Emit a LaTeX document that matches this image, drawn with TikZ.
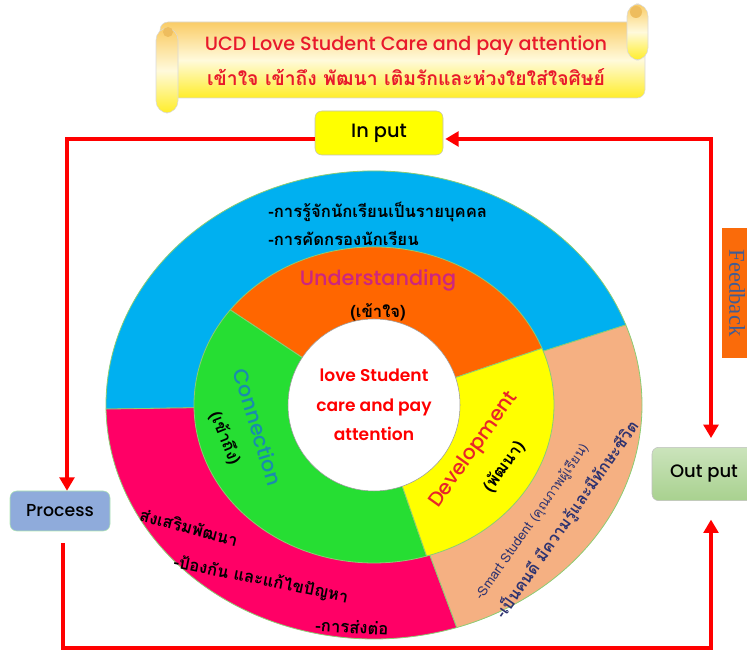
\documentclass[tikz,border=0pt]{standalone}
\usepackage{fontspec}
\setmainfont{Poppins}[UprightFont=* Medium, BoldFont=* SemiBold]
\newfontfamily\thaifont[Script=Thai]{Loma}
\newfontfamily\fbfont{Liberation Serif}
\usetikzlibrary{positioning,arrows.meta}
\definecolor{arrowclr}{rgb}{1.0, 0.0, 0.0}
\definecolor{titleclr}{rgb}{0.91, 0.10, 0.17}
\definecolor{blueclr}{rgb}{0.0, 0.69, 0.94}
\definecolor{pinkclr}{rgb}{1.0, 0.0, 0.4}
\definecolor{peachclr}{rgb}{0.96, 0.69, 0.51}
\definecolor{orangeclr}{rgb}{1.0, 0.4, 0.0}
\definecolor{greenclr}{rgb}{0.15, 0.87, 0.20}
\definecolor{yellowclr}{rgb}{1.0, 1.0, 0.0}
\definecolor{edgeclr}{rgb}{0.55, 0.80, 0.45}
\definecolor{undclr}{rgb}{0.80, 0.15, 0.50}
\definecolor{connclr}{rgb}{0.10, 0.55, 0.68}
\definecolor{devclr}{rgb}{0.91, 0.15, 0.16}
\definecolor{navyclr}{rgb}{0.18, 0.20, 0.44}
\definecolor{procclr}{rgb}{0.56, 0.67, 0.86}
\definecolor{outclr}{rgb}{0.66, 0.82, 0.56}
\definecolor{fbclr}{rgb}{0.98, 0.42, 0.04}
\definecolor{fbtxt}{rgb}{0.25, 0.36, 0.58}
\definecolor{scrolltop}{rgb}{0.98, 0.80, 0.40}
\definecolor{scrollmid}{rgb}{1.0, 0.98, 0.86}
\definecolor{scrollbot}{rgb}{1.0, 0.93, 0.16}
\tikzset{ %
  ,>={Triangle[length=10pt,width=11pt]}
  ,flow/.style={draw=arrowclr, line width=3pt}
  ,stage/.style={draw=black!25, rounded corners=5pt, inner sep=0, font=\fontsize{13}{15}\selectfont}
  ,ring/.style={draw=edgeclr, line width=0.6pt}
  ,thaitxt/.style={font=\thaifont\bfseries\fontsize{#1}{#1}\selectfont, inner sep=0}
  ,scroll/.style={top color=scrolltop, bottom color=scrollbot, middle color=scrollmid, draw=black!15}
}
\begin{document}
\begin{tikzpicture}[x=0.75pt, y=0.75pt]
  \useasboundingbox (0,0) rectangle (747,652);
  \clip (0,0) rectangle (747,652);
  % scroll
  \shade[scroll, rounded corners=6pt] (160,554) rectangle (645,630);
  \shade[scroll, rounded corners=9pt] (156,539) rectangle (178,624);
  \shade[scroll, rounded corners=9pt] (627,592) rectangle (648,648);
  \fill[scrolltop!80!brown] (168,620) circle[radius=5];
  \fill[scrolltop!80!brown] (636,640) circle[radius=6];
  \node[text=titleclr, font=\fontsize{14.4}{17}\selectfont] (title) at (406,606) {UCD Love Student Care and pay attention};
  \node[thaitxt=14.5, text=titleclr] (subtitle) at (406,575) {เข้าใจ เข้าถึง พัฒนา เติมรักและห่วงใยใส่ใจศิษย์};
  % rings
  \coordinate (c) at (374,247);
  \filldraw[ring, fill=blueclr] (c) -- ++(20:268 and 234) arc[start angle=20, end angle=181, x radius=268, y radius=234] -- cycle;
  \filldraw[ring, fill=pinkclr] (c) -- ++(181:268 and 234) arc[start angle=181, end angle=288, x radius=268, y radius=234] -- cycle;
  \filldraw[ring, fill=peachclr] (c) -- ++(-72:268 and 234) arc[start angle=-72, end angle=20, x radius=268, y radius=234] -- cycle;
  \filldraw[ring, fill=orangeclr] (c) -- ++(21:180 and 158) arc[start angle=21, end angle=143, x radius=180, y radius=158] -- cycle;
  \filldraw[ring, fill=greenclr] (c) -- ++(143:180 and 158) arc[start angle=143, end angle=287, x radius=180, y radius=158] -- cycle;
  \filldraw[ring, fill=yellowclr] (c) -- ++(-73:180 and 158) arc[start angle=-73, end angle=21, x radius=180, y radius=158] -- cycle;
  \filldraw[draw=black!40, fill=white] (c) circle[radius=86];
  % ring texts
  \node[text=arrowclr, align=center, font=\bfseries\fontsize{12.8}{22}\selectfont] (core) at (c) {love Student\\care and pay\\attention};
  \node[thaitxt=12.5, anchor=west] (know) at (268,440) {-การรู้จักนักเรียนเป็นรายบุคคล};
  \node[thaitxt=12.5, anchor=west] (screen) at (268,414) {-การคัดกรองนักเรียน};
  \node[text=undclr, font=\fontsize{15.6}{18}\selectfont] (und) at (378,372) {Understanding};
  \node[thaitxt=12.5] (undth) at (378,340) {(เข้าใจ)};
  \node[text=connclr, rotate=-73, font=\fontsize{15.5}{18}\selectfont] (conn) at (258,225) {Connection};
  \node[thaitxt=12.5, rotate=-68] (connth) at (225,214) {(เข้าถึง)};
  \node[text=devclr, rotate=54.5, font=\fontsize{15.2}{18}\selectfont] (dev) at (474,202) {Development};
  \node[thaitxt=12.5, rotate=54] (devth) at (504,185) {(พัฒนา)};
  \node[text=navyclr, rotate=55, font=\thaifont\fontsize{10}{12}\selectfont] (smart) at (532,130) {-Smart Student (คุณภาพผู้เรียน)};
  \node[thaitxt=12, text=navyclr, rotate=55] (good) at (567,132) {-เป็นคนดี มีความรู้และมีทักษะชีวิต};
  \node[thaitxt=12.5, rotate=-15] (promo) at (189,125) {ส่งเสริมพัฒนา};
  \node[thaitxt=12.5, rotate=-11.5] (prevent) at (261,72) {-ป้องกัน และแก้ไขปัญหา};
  \node[thaitxt=12.5, rotate=-3] (refer) at (352,25) {-การส่งต่อ};
  % stages
  \node[stage, fill=yellowclr, minimum width=96pt, minimum height=33pt, font=\fontsize{14.5}{17}\selectfont] (inp) at (379,519) {In put};
  \node[stage, fill=procclr, draw=black!30!green!30, minimum width=75pt, minimum height=30pt] (proc) at (60,141) {Process};
  \node[stage, top color=outclr!60, bottom color=outclr, minimum width=78pt, minimum height=40pt, font=\fontsize{13.5}{16}\selectfont] (outp) at (704,178) {Out put};
  \node[fill=fbclr, text=fbtxt, rotate=-90, minimum width=97pt, minimum height=23pt, font=\fbfont\fontsize{17}{19}\selectfont] (fb) at (737,359) {Feedback};
  \coordinate (bot) at (400,4);
  \draw[flow, ->] ([yshift=-4.5pt]inp.west) -| ([xshift=5.25pt]proc.north);
  \draw[flow, ->, shorten <=9pt, shorten >=14pt] ([xshift=2.25pt]proc.south) |- (bot) -| ([xshift=5.25pt]outp.south);
  \draw[flow, <->, shorten <=1.5pt, shorten >=6.75pt] ([yshift=-4.5pt]inp.east) -| ([xshift=5.25pt]outp.north);
\end{tikzpicture}
\end{document}
